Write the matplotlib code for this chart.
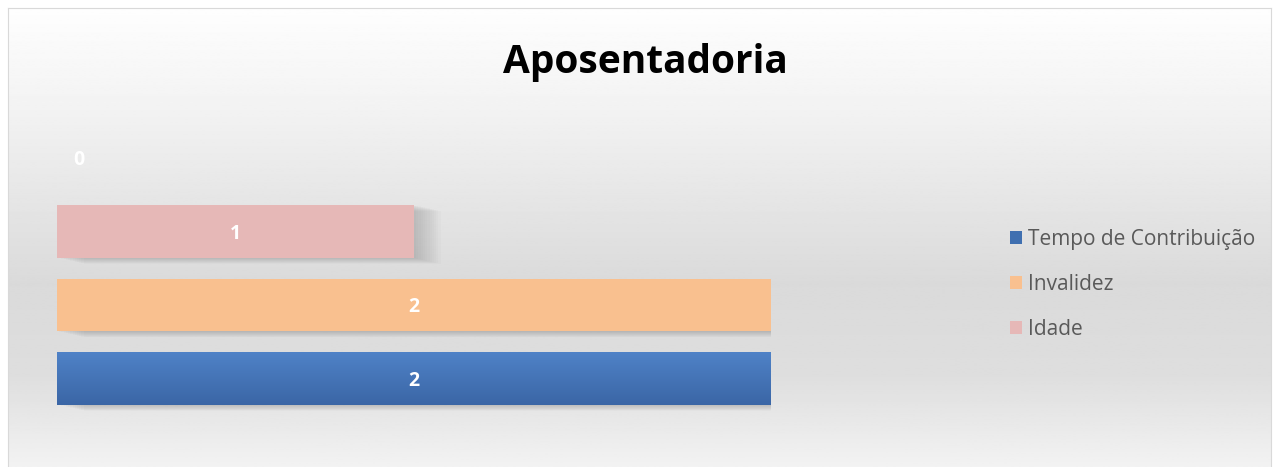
import matplotlib.pyplot as plt
import matplotlib.patheffects as pe
import numpy as np

# dados do gráfico
categorias = ['Tempo de Contribuição', 'Invalidez', 'Idade', '']
valores = [2, 2, 1, 0]
cores = ['#4a7cc0', '#f9c08f', '#e6b8b7', '#ffffff']
titulo = 'Aposentadoria'

plt.rcParams['font.family'] = ['Open Sans', 'DejaVu Sans']

fig = plt.figure(figsize=(12.73, 4.67), dpi=100)
fig.patch.set_facecolor('white')

# fundo com degradê (branco em cima, cinza no meio, mais claro embaixo)
bg = fig.add_axes([8 / 1273, 0, 1 - 10 / 1273, 1 - 8 / 467])
t = np.linspace(0, 1, 300)
tons = np.interp(t, [0, 0.2, 0.6, 0.8, 1.0], [0.995, 0.955, 0.855, 0.87, 0.95])
bg.imshow(np.repeat(tons[:, None], 2, axis=1), cmap='gray', vmin=0, vmax=1,
          aspect='auto', extent=[0, 1, 0, 1], origin='upper')
bg.set_xlim(0, 1)
bg.set_ylim(0, 1)
for lado in ['top', 'left', 'right']:
    bg.spines[lado].set_color('#d9d9d9')
bg.spines['bottom'].set_visible(False)
bg.set_xticks([])
bg.set_yticks([])

ax = fig.add_axes([57 / 1273, (467 - 415.25) / 467, 714 / 1273, 294 / 467])
ax.set_facecolor('none')
pos = np.arange(len(valores))
barras = ax.barh(pos, valores, height=0.72, color=cores)
ax.set_xlim(0, 2)
ax.set_ylim(-0.5, 3.5)
ax.axis('off')

# sombra suave nas barras (várias camadas fracas, deslocadas para a direita)
for b, v in zip(barras, valores):
    if v == 0:
        continue
    efeitos = []
    for k in range(12, 0, -1):
        efeitos.append(pe.SimplePatchShadow(offset=(k * 1.6, -k * 0.35),
                                            shadow_rgbFace='#808080', alpha=0.035))
    efeitos.append(pe.Normal())
    b.set_path_effects(efeitos)

# degradê na barra azul
b0 = barras[0]
grad = np.linspace(0, 1, 100)[:, None]
cor_top = np.array([0.31, 0.51, 0.78])
cor_base = np.array([0.23, 0.40, 0.65])
img = cor_top + (cor_base - cor_top) * grad[:, :, None]
img = np.repeat(img, 2, axis=1)
im = ax.imshow(img, aspect='auto', origin='upper', zorder=3,
               extent=[b0.get_x(), b0.get_x() + b0.get_width(),
                       b0.get_y(), b0.get_y() + b0.get_height()])
im.set_clip_path(b0)
ax.set_xlim(0, 2)
ax.set_ylim(-0.5, 3.5)

# rótulos de dados
for p, v in zip(pos, valores):
    dx = 22 if v == 0 else 0
    ax.annotate(str(v), (v / 2, p), xytext=(dx, -2), textcoords='offset pixels',
                ha='center', va='center', color='white', fontsize=14, fontweight='bold', zorder=5)

fig.text(0.507, 1 - 63 / 467, titulo, ha='center', va='center', fontsize=28, fontweight='bold', color='black')

leg = fig.legend(barras[:3], categorias[:3], loc='upper left', bbox_to_anchor=(991 / 1273, 1 - 210 / 467),
                 frameon=False, handlelength=0.6, handleheight=0.6, handletextpad=0.3,
                 labelspacing=1.15, fontsize=15, labelcolor='#595959')
for h in leg.legend_handles:
    h.set_path_effects([])
leg.legend_handles[0].set_facecolor('#3f6fb0')

fig.savefig('out.png', dpi=100)
